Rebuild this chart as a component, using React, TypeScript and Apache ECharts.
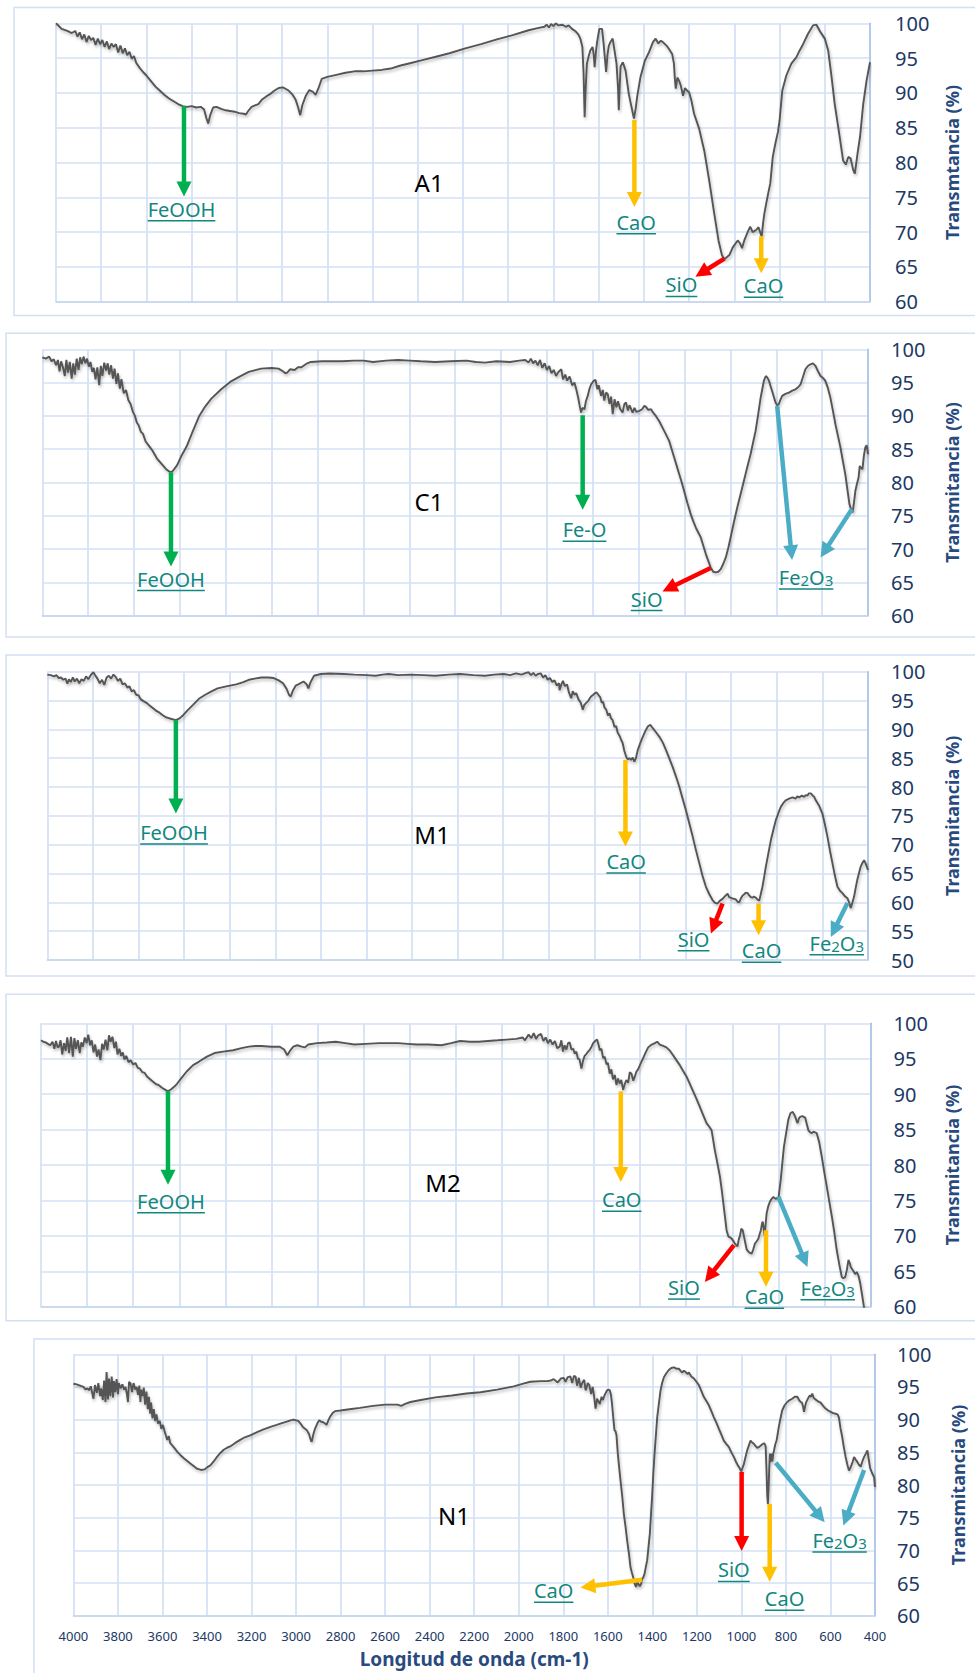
import React, { useEffect, useRef } from "react";
import * as echarts from "echarts";

type Pt = [number, number];
interface Arrow { color: string; from: Pt; to: Pt }
interface Label { text: string; at: Pt }

const GREEN = "#00b050";
const ORANGE = "#ffc000";
const RED = "#ff0000";
const BLUE = "#4bacc6";
const TEAL = "#12877f";
const AXIS_BLUE = "#203864";
const TITLE_BLUE = "#284a7e";

// ---------- spectra (wavenumber cm-1, transmittance %) ----------
const A1_SPECTRUM: Pt[] = [
  [4000,100],[3975,99.2],[3950,98.9],[3930,98.6],[3915,98.9],[3905,98.1],[3895,98.7],[3885,97.7],[3875,98.4],[3865,97.3],[3855,98.2],[3845,97.6],[3835,97.9],[3825,96.9],[3815,97.8],[3805,97.0],[3795,97.6],[3785,96.6],[3775,97.4],[3765,96.3],[3755,97.1],[3745,96.6],[3735,97.0],[3725,95.8],[3715,96.8],[3705,95.7],[3695,96.4],[3685,95.4],[3675,95.9],[3665,94.9],[3655,95.3],[3645,94.3],[3630,93.6],[3615,93.0],[3600,92.5],[3580,91.7],[3560,90.9],[3540,90.3],[3520,89.7],[3500,89.2],[3480,88.8],[3460,88.4],[3440,88.1],[3420,88.0],[3400,88.1],[3380,87.9],[3360,88.0],[3345,87.6],[3335,86.4],[3327,85.6],[3318,86.8],[3305,87.9],[3290,88.0],[3270,87.7],[3250,87.5],[3230,87.4],[3210,87.3],[3190,87.1],[3170,87.0],[3160,86.9],[3150,87.4],[3135,88.0],[3120,88.2],[3105,88.4],[3090,89.0],[3070,89.5],[3050,89.9],[3035,90.3],[3015,90.7],[2997,90.8],[2985,90.6],[2970,90.3],[2955,89.8],[2940,89.0],[2930,88.0],[2920,86.8],[2910,88.3],[2895,89.6],[2880,90.4],[2865,90.2],[2852,89.7],[2840,90.6],[2825,92.0],[2800,92.3],[2760,92.6],[2720,92.9],[2680,93.1],[2640,93.1],[2600,93.2],[2560,93.3],[2520,93.5],[2480,93.9],[2430,94.3],[2380,94.7],[2320,95.2],[2260,95.7],[2190,96.4],[2120,97.0],[2050,97.7],[1980,98.3],[1910,99.0],[1870,99.3],[1840,99.5],[1830,99.8],[1820,99.4],[1810,99.9],[1800,99.6],[1790,100],[1778,99.7],
  [1760,99.8],[1745,99.5],[1733,99.7],[1718,99.2],[1704,98.9],[1690,98.4],[1681,97.8],[1672,96.6],[1667,93.0],[1662,86.5],[1657,91.0],[1652,94.2],[1644,95.3],[1637,96.1],[1627,96.6],[1622,95.5],[1618,93.7],[1612,95.9],[1607,97.3],[1597,99.2],[1585,99.2],[1578,97.0],[1567,93.0],[1561,95.5],[1555,96.8],[1548,97.3],[1538,97.8],[1530,96.1],[1521,94.2],[1514,90.5],[1511,87.5],[1507,91.0],[1503,93.8],[1493,94.4],[1481,93.2],[1467,89.9],[1455,88.0],[1444,86.3],[1436,87.8],[1430,89.4],[1415,92.3],[1396,94.6],[1378,95.8],[1360,97.3],[1348,97.8],[1336,97.1],[1325,97.5],[1316,97.3],[1300,96.8],[1289,96.3],[1275,95.6],[1267,94.2],[1263,92.0],[1259,90.6],[1252,92.2],[1245,91.8],[1237,91.1],[1227,89.6],[1218,90.7],[1208,90.3],[1200,90.1],[1190,88.9],[1178,87.0],[1156,84.9],[1133,81.7],[1111,77.4],[1089,72.7],[1070,68.8],[1055,66.7],[1044,66.1],[1022,66.7],[1007,67.8],[985,68.8],[975,68.4],[966,67.7],[956,68.8],[941,70.0],[930,70.8],[919,70.0],[904,70.3],[893,70.7],[884,69.8],[879,69.4],[872,71.5],[867,72.7],[859,74.1],[850,75.6],[841,77.0],[830,80.8],[818,82.8],[807,84.4],[800,86.0],[788,90.3],[770,92.5],[748,94.2],[726,95.1],[711,96.1],[696,97.0],[674,98.5],[652,99.7],[637,99.8],[622,98.9],[600,97.8],[585,96.1],[570,92.3],[556,88.4],[536,84.1],[519,80.3],[507,79.7],[496,80.8],[486,80.6],[474,78.9],[467,78.4],[455,81.3],[444,83.7],[430,88.4],[415,91.8],[400,94.4]
];

const C1_SPECTRUM: Pt[] = [
  [4000,98.8],[3985,98.6],[3970,98.9],[3960,98.2],[3950,98.5],[3940,97.6],[3932,98.4],[3925,96.7],[3918,98.2],[3910,97.3],[3902,96.0],[3895,98.4],[3888,96.5],[3880,98.1],[3872,95.6],[3865,97.9],[3858,96.2],[3850,98.6],[3842,96.9],[3835,98.8],[3828,97.8],[3820,98.9],[3812,97.9],[3805,98.6],[3797,97.4],[3790,98.1],[3782,96.6],[3775,97.2],[3768,95.5],[3760,97.3],[3752,94.6],[3745,97.5],[3738,96.0],[3730,98.0],[3722,96.8],[3715,97.9],[3708,96.2],[3700,97.6],[3692,95.6],[3685,97.1],[3677,94.8],[3670,96.4],[3662,94.1],[3655,95.5],[3645,93.4],[3635,93.9],[3625,92.4],[3615,91.8],[3605,90.6],[3596,90.0],[3588,89.0],[3580,88.6],[3570,87.6],[3561,87.3],[3550,86.2],[3535,85.5],[3520,84.8],[3500,83.6],[3480,82.8],[3460,82.0],[3445,81.6],[3435,81.6],[3425,82.0],[3412,82.6],[3395,83.9],[3371,85.4],[3345,87.6],[3317,89.9],[3290,91.4],[3263,92.6],[3220,94.0],[3181,95.1],[3140,95.9],[3100,96.6],[3046,97.1],[3000,97.2],[2970,97.1],[2951,96.7],[2940,96.4],[2932,96.5],[2920,97.0],[2900,96.9],[2885,97.3],[2870,97.3],[2850,97.8],[2829,98.1],[2780,98.2],[2720,98.2],[2693,98.2],[2640,98.3],[2600,98.3],[2558,98.1],[2500,98.3],[2449,98.4],[2400,98.3],[2350,98.2],[2287,98.1],[2220,98.2],[2151,98.3],[2110,98.1],[2070,98.0],[2020,98.2],[1961,98.1],[1920,98.3],[1894,98.4],[1880,98.0],[1870,98.6],[1860,97.9],[1850,98.3],[1840,97.6],[1830,98.4],[1820,97.2],[1810,97.9],[1800,96.9],[1790,97.5],[1780,96.4],[1770,96.9],[1760,96.0],[1750,96.6],
  [1745,96.75],[1737,97.0],[1730,95.5],[1720,96.2],[1712,95.3],[1701,95.9],[1690,94.6],[1680,95.0],[1672,94.0],[1664,92.8],[1657,91.5],[1651,90.5],[1645,91.2],[1636,91.0],[1630,92.2],[1622,93.0],[1615,94.0],[1607,94.75],[1595,95.3],[1588,95.4],[1580,94.0],[1574,94.6],[1564,93.0],[1556,93.9],[1550,92.3],[1542,93.5],[1535,93.3],[1527,91.8],[1520,92.9],[1513,90.25],[1505,92.5],[1497,91.3],[1490,92.2],[1480,91.0],[1470,90.5],[1462,91.8],[1455,92.0],[1447,90.8],[1440,91.6],[1426,90.5],[1418,91.2],[1410,90.6],[1397,90.75],[1385,91.0],[1375,91.5],[1368,91.35],[1358,90.9],[1346,91.0],[1335,90.4],[1325,90.0],[1310,89.2],[1296,88.25],[1282,87.3],[1267,86.25],[1256,85.0],[1245,83.75],[1234,82.5],[1223,81.25],[1212,80.0],[1202,78.75],[1188,77.0],[1173,75.25],[1162,74.2],[1151,73.25],[1140,72.5],[1129,71.75],[1118,70.5],[1107,69.25],[1096,68.2],[1086,67.25],[1075,66.6],[1064,66.5],[1053,66.6],[1042,67.0],[1031,67.8],[1020,68.75],[1009,70.2],[999,71.75],[985,74.0],[970,76.25],[955,78.3],[941,80.25],[927,82.2],[912,84.25],[901,86.0],[890,87.75],[879,90.2],[868,92.75],[861,94.0],[854,95.25],[848,95.8],[844,96.0],[838,95.7],[832,95.3],[825,94.5],[818,93.75],[810,92.8],[803,92.0],[796,91.6],[789,91.75],[782,92.4],[774,93.0],[760,93.3],[745,93.5],[730,93.8],[716,94.0],[705,94.3],[694,94.75],[684,95.8],[673,97.0],[662,97.5],[651,97.75],[640,97.9],[629,97.5],[618,96.7],[607,96.0],[596,95.7],[586,95.25],[575,94.2],[564,92.75],[553,90.8],[542,88.75],[531,87.0],[520,85.25],[510,83.3],[499,81.25],[490,79.0],[481,76.75],[474,76.0],[467,75.5],[461,77.0],[455,78.75],[448,79.8],[441,80.75],[436,82.5],[431,82.2],[424,82.0],[418,84.0],[412,85.25],[406,85.6],[400,84.25]
];

const M1_SPECTRUM: Pt[] = [
  [4000,99.5],[3985,99.4],[3970,99.2],[3960,99.4],[3950,98.9],[3940,99.0],[3930,98.6],[3920,98.8],[3912,97.9],[3905,98.7],[3897,98.2],[3888,99.0],[3880,98.3],[3870,98.8],[3860,98.0],[3850,98.7],[3840,98.4],[3830,99.2],[3820,98.7],[3808,99.5],[3798,99.9],[3790,99.4],[3780,98.8],[3770,98.0],[3760,98.6],[3750,97.7],[3740,99.0],[3730,99.3],[3720,98.8],[3710,99.5],[3700,99.1],[3690,98.4],[3680,98.8],[3670,97.8],[3660,98.0],[3648,97.2],[3640,97.5],[3630,96.6],[3620,96.8],[3610,96.0],[3600,95.9],[3590,95.2],[3578,94.9],[3565,94.6],[3553,94.2],[3540,93.8],[3525,93.3],[3512,93.0],[3495,92.5],[3480,92.1],[3471,92.0],[3455,91.8],[3436,91.6],[3420,91.9],[3403,92.5],[3385,93.3],[3362,94.2],[3335,95.3],[3307,96.0],[3280,96.6],[3253,97.1],[3210,97.5],[3171,97.8],[3140,98.2],[3116,98.6],[3090,98.8],[3062,99.0],[3030,99.0],[3007,98.9],[2985,98.5],[2966,98.0],[2950,97.0],[2940,96.0],[2932,95.7],[2922,96.8],[2910,97.6],[2895,97.9],[2876,98.3],[2862,97.8],[2855,97.1],[2845,98.2],[2830,99.3],[2800,99.6],[2762,99.7],[2700,99.6],[2653,99.5],[2600,99.4],[2560,99.3],[2530,99.5],[2503,99.6],[2460,99.4],[2407,99.5],[2350,99.4],[2298,99.3],[2240,99.5],[2189,99.6],[2130,99.4],[2080,99.3],[2040,99.5],[1998,99.6],[1970,99.4],[1944,99.7],[1920,99.5],[1900,99.8],[1889,99.9],[1878,99.4],[1868,99.8],[1858,99.3],[1848,99.6],[1835,99.7],[1825,99.0],[1815,99.4],[1805,98.6],[1795,98.9],[1785,98.2],[1775,98.5],[1765,97.6],[1755,98.0],
  [1753,96.8],[1745,97.8],[1738,98.4],[1730,97.5],[1720,97.8],[1712,96.4],[1702,95.4],[1695,96.6],[1687,96.0],[1680,96.3],[1670,95.2],[1660,94.6],[1651,93.4],[1645,94.2],[1636,94.6],[1628,94.9],[1615,95.7],[1605,96.0],[1597,96.3],[1590,96.4],[1583,96.0],[1575,95.6],[1568,94.6],[1562,94.8],[1556,93.8],[1548,93.4],[1541,92.4],[1534,92.8],[1527,91.9],[1520,91.6],[1512,90.4],[1505,90.6],[1498,89.4],[1490,88.9],[1483,88.2],[1476,87.6],[1469,86.3],[1461,85.3],[1454,84.8],[1446,85.0],[1439,84.7],[1432,85.1],[1425,84.4],[1418,85.0],[1410,86.4],[1399,87.6],[1388,88.7],[1378,89.6],[1366,90.5],[1355,90.8],[1344,90.2],[1330,89.5],[1315,88.7],[1300,87.7],[1286,86.4],[1272,85.0],[1257,83.5],[1243,81.9],[1228,80.1],[1214,78.1],[1199,76.0],[1184,73.7],[1169,71.4],[1155,69.1],[1140,66.8],[1126,64.6],[1111,62.7],[1096,61.4],[1082,60.4],[1071,59.9],[1060,59.8],[1049,60.3],[1038,60.6],[1024,61.2],[1016,61.5],[1009,60.9],[995,60.7],[980,60.5],[972,60.1],[965,60.0],[956,60.8],[950,61.2],[943,61.4],[936,61.7],[928,61.6],[921,61.2],[914,60.9],[907,60.8],[900,61.0],[892,60.8],[885,60.5],[877,60.3],[870,61.5],[863,62.7],[855,64.5],[848,66.2],[837,68.5],[826,70.8],[815,72.6],[804,74.3],[793,75.5],[782,76.6],[772,77.2],[761,77.7],[746,78.0],[731,78.2],[717,78.0],[710,78.4],[702,78.2],[690,78.5],[680,78.3],[673,78.6],[665,78.5],[660,78.9],[651,78.9],[642,78.5],[636,78.3],[629,77.7],[615,76.8],[600,75.4],[589,73.5],[578,71.4],[567,69.0],[556,66.8],[545,64.6],[534,62.7],[523,62.0],[512,61.6],[500,61.0],[490,60.7],[483,60.0],[476,59.0],[468,60.0],[461,61.0],[454,62.5],[447,63.9],[440,65.0],[432,66.2],[425,66.8],[417,67.3],[412,66.9],[407,66.4],[400,65.6]
];

const M2_SPECTRUM: Pt[] = [
  [4000,97.6],[3990,97.4],[3980,97.3],[3970,97.1],[3960,96.9],[3950,97.4],[3942,96.4],[3935,97.5],[3928,96.6],[3922,96.7],[3915,97.6],[3908,95.6],[3900,97.2],[3893,96.1],[3886,98.0],[3878,95.8],[3870,98.1],[3862,95.3],[3855,97.9],[3848,96.4],[3840,97.6],[3832,95.8],[3825,97.3],[3818,96.7],[3810,98.0],[3802,97.2],[3795,98.4],[3787,96.9],[3780,97.6],[3772,95.9],[3765,97.0],[3757,95.3],[3750,96.3],[3742,94.8],[3735,97.1],[3728,96.3],[3720,97.7],[3712,96.2],[3705,98.3],[3698,97.4],[3690,98.1],[3682,96.5],[3675,97.4],[3668,95.6],[3660,96.4],[3652,95.4],[3645,95.9],[3638,94.9],[3630,95.4],[3620,94.5],[3611,94.8],[3600,94.2],[3590,94.4],[3580,93.7],[3571,93.6],[3560,93.1],[3550,93.0],[3540,92.5],[3530,92.2],[3515,91.8],[3500,91.4],[3490,91.3],[3475,90.9],[3460,90.6],[3449,90.4],[3435,90.7],[3420,91.1],[3409,91.5],[3390,92.3],[3368,93.2],[3340,94.1],[3314,94.6],[3280,95.3],[3247,95.8],[3210,96.0],[3166,96.2],[3130,96.5],[3098,96.7],[3070,96.8],[3045,96.8],[3000,96.7],[2964,96.7],[2945,96.3],[2931,95.5],[2920,96.1],[2905,96.7],[2888,96.9],[2869,96.7],[2855,96.6],[2840,97.0],[2802,97.2],[2760,97.3],[2721,97.4],[2680,97.2],[2640,97.0],[2590,97.1],[2532,97.2],[2490,97.2],[2451,97.2],[2410,97.1],[2370,97.0],[2320,97.0],[2262,96.9],[2220,97.2],[2181,97.5],[2140,97.4],[2100,97.4],[2060,97.5],[2019,97.6],[1980,97.7],[1938,97.8],[1910,98.0],[1900,97.6],[1884,98.4],[1872,97.9],[1862,98.6],[1852,97.8],[1842,98.3],[1830,98.5],[1820,97.5],[1810,98.0],[1800,97.2],[1790,97.7],[1780,97.0],[1770,97.5],[1760,96.5],
  [1749,96.7],[1742,97.6],[1735,96.0],[1728,96.9],[1720,96.3],[1713,97.2],[1706,97.3],[1698,96.3],[1690,96.4],[1684,95.7],[1677,96.0],[1670,95.0],[1663,94.9],[1655,93.6],[1648,94.7],[1641,95.4],[1633,95.7],[1626,96.0],[1618,96.3],[1611,96.7],[1604,97.2],[1595,97.5],[1587,97.7],[1580,96.9],[1575,96.2],[1568,96.4],[1561,95.1],[1554,95.3],[1546,94.2],[1540,94.4],[1532,92.9],[1525,93.5],[1518,92.1],[1510,92.7],[1503,91.3],[1496,92.2],[1489,91.5],[1482,92.0],[1474,90.6],[1467,91.4],[1460,92.0],[1452,91.6],[1445,93.1],[1438,92.9],[1430,91.9],[1423,92.5],[1416,93.2],[1409,93.5],[1398,94.3],[1387,95.1],[1376,95.9],[1365,96.6],[1350,97.0],[1336,97.2],[1326,97.4],[1315,97.0],[1300,96.8],[1286,96.6],[1270,96.1],[1257,95.5],[1243,94.8],[1228,94.1],[1214,93.3],[1199,92.5],[1185,91.5],[1170,90.4],[1155,89.3],[1141,88.2],[1126,87.0],[1112,85.9],[1100,85.4],[1090,84.9],[1083,83.5],[1076,82.1],[1065,80.3],[1054,78.4],[1046,76.5],[1039,74.6],[1032,72.7],[1025,70.8],[1017,69.9],[1010,69.8],[1003,69.6],[996,69.3],[989,68.9],[978,68.5],[972,69.5],[967,70.0],[961,71.0],[955,70.8],[950,70.0],[945,69.2],[938,68.1],[931,67.8],[924,67.6],[916,67.5],[909,68.1],[902,68.9],[895,69.2],[887,69.6],[880,70.4],[876,70.8],[871,71.8],[868,72.0],[864,71.1],[860,70.0],[855,71.8],[851,73.2],[844,74.2],[837,74.8],[830,75.2],[822,75.5],[816,75.3],[811,75.2],[805,75.4],[800,75.3],[795,76.6],[790,77.9],[783,80.3],[776,82.6],[766,84.6],[757,86.4],[748,87.3],[738,87.5],[733,87.2],[728,86.9],[722,86.3],[717,85.9],[712,86.5],[706,86.8],[703,86.8],[696,86.9],[690,86.8],[684,86.7],[677,85.8],[670,84.9],[662,84.6],[655,84.5],[648,84.7],[641,84.6],[634,84.5],[623,83.2],[612,81.2],[601,79.0],[590,76.9],[579,74.8],[568,72.7],[557,70.4],[547,68.0],[536,66.0],[525,64.2],[518,64.0],[510,64.2],[503,65.2],[496,66.6],[491,66.2],[486,65.6],[480,65.3],[474,65.0],[467,64.6],[460,64.9],[452,64.3],[445,63.3],[438,61.9],[428,59.8],[418,57.5],[400,53.0]
];

const N1_SPECTRUM: Pt[] = [
  [4000,95.5],[3985,95.4],[3970,95.2],[3955,95.0],[3945,94.6],[3937,94.8],[3930,94.5],[3922,95.1],[3915,94.0],[3910,93.2],[3903,95.3],[3895,94.1],[3888,95.6],[3880,93.6],[3875,94.8],[3868,93.0],[3862,96.0],[3856,92.7],[3851,97.3],[3845,93.1],[3840,96.3],[3834,93.6],[3828,96.6],[3822,93.4],[3818,95.9],[3812,94.2],[3806,96.2],[3800,93.9],[3796,95.6],[3788,94.8],[3780,95.4],[3772,94.6],[3766,95.0],[3760,94.0],[3755,92.7],[3750,95.8],[3743,95.5],[3737,94.2],[3730,95.6],[3722,94.6],[3716,95.0],[3710,93.8],[3704,95.2],[3699,92.7],[3696,94.6],[3690,93.6],[3684,94.9],[3678,92.3],[3672,94.3],[3666,91.6],[3661,93.5],[3655,90.9],[3651,92.6],[3645,90.2],[3639,91.6],[3633,89.8],[3627,90.8],[3620,89.4],[3612,89.8],[3605,88.6],[3598,89.2],[3591,88.3],[3585,87.6],[3579,86.9],[3572,87.5],[3565,86.4],[3557,86.1],[3545,85.6],[3534,85.1],[3520,84.6],[3504,84.1],[3490,83.7],[3475,83.3],[3460,82.9],[3445,82.5],[3427,82.3],[3410,82.4],[3400,82.7],[3385,83.0],[3370,83.6],[3355,84.3],[3340,84.9],[3325,85.4],[3310,85.7],[3296,85.9],[3275,86.4],[3251,86.9],[3230,87.3],[3206,87.6],[3175,88.1],[3146,88.5],[3115,88.9],[3087,89.2],[3060,89.5],[3042,89.7],[3025,89.9],[3012,90.0],[3000,89.9],[2990,89.8],[2980,89.4],[2970,88.9],[2960,88.6],[2952,88.4],[2942,87.8],[2935,87.0],[2930,86.6],[2922,87.8],[2915,88.6],[2905,89.4],[2896,89.9],[2888,89.7],[2878,89.6],[2870,89.4],[2863,89.2],[2855,89.9],[2848,90.4],[2836,91.0],[2825,91.3],[2800,91.4],[2760,91.6],[2713,91.8],[2654,92.1],[2600,92.3],[2570,92.3],[2545,92.3],[2528,92.1],[2510,92.4],[2486,92.7],[2440,93.0],[2374,93.4],[2300,93.7],[2235,94.0],[2172,94.2],[2097,94.6],[2022,95.1],[1980,95.5],[1948,95.8],[1900,95.9],[1873,95.9],[1855,96.0],[1843,96.2],[1825,95.7],[1810,96.3],[1798,96.4],[1790,95.8],[1780,96.5],[1768,96.6],[1760,95.6],[1752,96.7],[1745,96.6],[1738,95.2],[1730,96.4],[1722,94.9],[1715,95.6],[1706,96.1],[1700,94.5],[1696,94.8],[1690,95.6],[1683,95.3],[1675,93.9],[1668,95.0],[1662,93.7],[1655,91.7],[1648,93.2],[1642,92.8],[1636,92.4],[1628,93.5],[1622,93.0],[1615,93.7],[1609,94.1],[1603,94.5],[1597,94.6],[1591,94.5],[1586,93.8],[1581,92.4],[1576,90.5],[1570,88.4],[1565,88.2],[1561,87.6],[1555,84.8],[1549,82.7],[1543,80.7],[1535,78.2],[1528,75.6],[1520,73.5],[1513,71.5],[1505,69.5],[1498,67.4],[1492,66.6],[1486,65.9],[1481,65.1],[1476,64.6],[1472,64.4],[1468,65.3],[1462,64.8],[1456,64.5],[1450,64.9],[1446,65.6],[1440,65.9],[1435,66.4],[1429,67.5],[1423,68.5],[1417,70.6],[1411,72.6],[1406,75.5],[1401,78.2],[1396,81.5],[1390,84.8],[1384,87.6],[1378,90.4],[1370,92.6],[1363,94.5],[1356,95.6],[1348,96.5],[1337,97.1],[1326,97.6],[1315,97.9],[1303,98.0],[1292,97.8],[1281,97.8],[1274,97.5],[1266,97.2],[1258,97.5],[1251,97.3],[1243,97.0],[1236,97.2],[1225,96.6],[1213,96.3],[1202,95.8],[1191,95.3],[1180,94.4],[1169,93.5],[1158,92.9],[1146,92.2],[1135,91.3],[1124,90.4],[1112,89.5],[1101,88.6],[1090,87.7],[1079,86.8],[1068,86.3],[1056,85.8],[1045,85.0],[1034,84.3],[1025,83.6],[1016,83.0],[1008,82.6],[1001,82.1],[995,82.6],[989,83.2],[982,84.2],[974,85.3],[966,86.1],[959,86.8],[952,86.5],[944,86.3],[937,86.0],[929,85.7],[921,85.8],[914,86.0],[907,86.2],[899,86.4],[894,86.2],[891,85.9],[887,82.0],[884,78.5],[881,77.1],[878,79.5],[875,82.5],[872,84.8],[869,83.5],[866,84.8],[861,83.6],[857,84.8],[854,85.2],[848,86.2],[842,86.8],[837,87.8],[832,88.9],[825,90.1],[817,91.4],[806,92.2],[794,92.7],[783,93.0],[772,93.2],[760,93.5],[749,93.5],[741,93.0],[734,92.7],[728,92.6],[723,92.0],[719,91.2],[715,91.8],[710,92.6],[700,93.3],[693,93.7],[688,93.5],[682,94.0],[675,93.3],[667,93.1],[656,92.8],[644,92.6],[633,92.1],[622,91.7],[610,91.4],[599,91.2],[588,91.0],[576,90.9],[568,90.8],[562,90.3],[555,88.7],[547,87.3],[540,85.8],[532,84.3],[524,83.1],[517,82.2],[511,82.6],[506,83.0],[500,83.6],[494,84.3],[487,83.9],[479,83.5],[472,83.1],[464,82.8],[457,83.6],[449,84.3],[441,84.8],[434,85.3],[428,83.9],[422,82.6],[416,82.1],[410,81.6],[404,81.2],[400,79.7]
];

// ---------- annotations (data coordinates) ----------
const A1_ARROWS: Arrow[] = [
  { color: GREEN, from: [3434, 88.1], to: [3434, 75.1] },
  { color: ORANGE, from: [1442, 86.1], to: [1442, 73.6] },
  { color: RED, from: [1044, 66.2], to: [1172, 63.6] },
  { color: ORANGE, from: [881, 69.4], to: [881, 64.1] },
];
const A1_LABELS: Label[] = [
  { text: "FeOOH", at: [3445, 73.3] },
  { text: "CaO", at: [1434, 71.4] },
  { text: "SiO", at: [1234, 62.4] },
  { text: "CaO", at: [871, 62.3] },
];
const C1_ARROWS: Arrow[] = [
  { color: GREEN, from: [3439, 81.5], to: [3439, 67.4] },
  { color: GREEN, from: [1644, 90.1], to: [1644, 75.9] },
  { color: RED, from: [1086, 67.15], to: [1296, 63.65] },
  { color: BLUE, from: [796, 91.5], to: [731, 68.35] },
  { color: BLUE, from: [470, 76.0], to: [607, 68.75] },
];
const C1_LABELS: Label[] = [
  { text: "FeOOH", at: [3439, 65.5] },
  { text: "Fe-O", at: [1636, 72.9] },
  { text: "SiO", at: [1365, 62.5] },
  { text: "Fe2O3", at: [670, 65.75] },
];
const M1_ARROWS: Arrow[] = [
  { color: GREEN, from: [3436, 91.6], to: [3436, 75.4] },
  { color: ORANGE, from: [1464, 84.7], to: [1464, 69.7] },
  { color: RED, from: [1038, 59.8], to: [1089, 54.6] },
  { color: ORANGE, from: [880, 59.8], to: [880, 54.3] },
  { color: BLUE, from: [490, 59.9], to: [563, 54.0] },
];
const M1_LABELS: Label[] = [
  { text: "FeOOH", at: [3444, 72.1] },
  { text: "CaO", at: [1461, 67.1] },
  { text: "SiO", at: [1165, 53.6] },
  { text: "CaO", at: [867, 51.6] },
  { text: "Fe2O3", at: [537, 52.9] },
];
const M2_ARROWS: Arrow[] = [
  { color: GREEN, from: [3449, 90.4], to: [3449, 77.2] },
  { color: ORANGE, from: [1484, 90.4], to: [1484, 77.6] },
  { color: RED, from: [993, 68.7], to: [1119, 63.5] },
  { color: ORANGE, from: [854, 70.8], to: [854, 62.8] },
  { color: BLUE, from: [800, 75.5], to: [674, 65.6] },
];
const M2_LABELS: Label[] = [
  { text: "FeOOH", at: [3436, 74.9] },
  { text: "CaO", at: [1480, 75.1] },
  { text: "SiO", at: [1210, 62.7] },
  { text: "CaO", at: [861, 61.4] },
  { text: "Fe2O3", at: [586, 62.6] },
];
const N1_ARROWS: Arrow[] = [
  { color: ORANGE, from: [1446, 65.5], to: [1723, 64.3] },
  { color: RED, from: [999, 82.0], to: [999, 69.9] },
  { color: ORANGE, from: [873, 77.1], to: [873, 65.2] },
  { color: BLUE, from: [846, 83.4], to: [626, 74.3] },
  { color: BLUE, from: [449, 82.3], to: [542, 73.8] },
];
const N1_LABELS: Label[] = [
  { text: "CaO", at: [1843, 63.8] },
  { text: "SiO", at: [1034, 67.0] },
  { text: "CaO", at: [806, 62.6] },
  { text: "Fe2O3", at: [559, 71.5] },
];

const SAMPLE_NAMES = ["A1", "C1", "M1", "M2", "N1"];
const SAMPLE_NAME_AT: Pt[] = [[2350, 77.1], [2314, 77.1], [2312, 71.8], [2256, 77.6], [2291, 75.4]];
const Y_MIN = [60, 60, 50, 60, 60];
const Y_NAMES = ["Transmtancia (%)", "Transmitancia (%)", "Transmitancia (%)", "Transmitancia (%)", "Transmitancia (%)"];
const X_NAME = "Longitud de onda (cm-1)";

// ---------- layout ----------
const PANELS = [
  { data: A1_SPECTRUM, arrows: A1_ARROWS, labels: A1_LABELS, grid: { left: 56, top: 23.3, width: 814, height: 278.4 }, box: [14, 7.5, 1000, 308], labelMargin: 25, nameX: 951.5 },
  { data: C1_SPECTRUM, arrows: C1_ARROWS, labels: C1_LABELS, grid: { left: 42.3, top: 349.3, width: 825.7, height: 266.4 }, box: [6, 333.3, 1000, 303.7], labelMargin: 23, nameX: 951.5 },
  { data: M1_SPECTRUM, arrows: M1_ARROWS, labels: M1_LABELS, grid: { left: 47.3, top: 671.7, width: 820.7, height: 288.3 }, box: [6, 655, 1000, 321], labelMargin: 23, nameX: 951.5 },
  { data: M2_SPECTRUM, arrows: M2_ARROWS, labels: M2_LABELS, grid: { left: 41, top: 1023.3, width: 829.6, height: 283.4 }, box: [6, 994.3, 1000, 326.4], labelMargin: 23, nameX: 951.5 },
  { data: N1_SPECTRUM, arrows: N1_ARROWS, labels: N1_LABELS, grid: { left: 73.4, top: 1354.3, width: 801.6, height: 261.4 }, box: [34, 1339, 1000, 400], labelMargin: 22, nameX: 958 },
];

const FONT = "Noto Sans";

function buildOption() {
  return {
    animation: false,
    backgroundColor: "#ffffff",
    grid: PANELS.map((p) => ({ ...p.grid, containLabel: false })),
    xAxis: PANELS.map((p, i) => ({
      type: "value",
      gridIndex: i,
      min: 400,
      max: 4000,
      interval: 200,
      inverse: true,
      axisTick: { show: false },
      axisLine: { show: true, lineStyle: { color: "#c3d5ee", width: 1.5 } },
      splitLine: { show: true, lineStyle: { color: "#d3e1f4", width: 1.7 } },
      axisLabel: {
        show: i === 4,
        color: AXIS_BLUE,
        fontSize: 13,
        fontFamily: FONT,
        margin: 14,
        formatter: (v: number) => String(v),
      },
    })),
    yAxis: PANELS.map((p, i) => ({
      type: "value",
      gridIndex: i,
      position: "right",
      min: Y_MIN[i],
      max: 100,
      interval: 5,
      axisTick: { show: false },
      axisLine: { show: true, lineStyle: { color: "#a9c3e8", width: 1.6 } },
      splitLine: { show: true, lineStyle: { color: "#d3e1f4", width: 1.7 } },
      axisLabel: { color: AXIS_BLUE, fontSize: 20, fontFamily: FONT, margin: p.labelMargin },
    })),
    series: PANELS.map((p, i) => ({
      type: "line",
      name: SAMPLE_NAMES[i],
      xAxisIndex: i,
      yAxisIndex: i,
      data: p.data,
      showSymbol: false,
      clip: true,
      silent: true,
      lineStyle: {
        color: "#555555",
        width: 1.9,
        shadowColor: "rgba(0,0,0,0.28)",
        shadowBlur: 3,
        shadowOffsetX: 1,
        shadowOffsetY: 2,
      },
      z: 3,
    })),
  };
}

const measureCtx = typeof document !== "undefined" ? document.createElement("canvas").getContext("2d") : null;
function textW(t: string, size: number): number {
  if (!measureCtx) return t.length * size * 0.6;
  measureCtx.font = `${size}px "${FONT}"`;
  return measureCtx.measureText(t).width;
}

function arrowEls(s: number[], t: number[], color: string) {
  const dx = t[0] - s[0];
  const dy = t[1] - s[1];
  const L = Math.hypot(dx, dy) || 1;
  const ux = dx / L, uy = dy / L;
  const hl = 15, hw = 7.5;
  const bx = t[0] - ux * hl, by = t[1] - uy * hl;
  const px = -uy, py = ux;
  return [
    { type: "line", z: 10, silent: true, shape: { x1: s[0], y1: s[1], x2: bx + ux, y2: by + uy }, style: { stroke: color, lineWidth: 4.5 } },
    { type: "polygon", z: 10, silent: true, shape: { points: [[t[0], t[1]], [bx + px * hw, by + py * hw], [bx - px * hw, by - py * hw]] }, style: { fill: color } },
  ];
}

function buildGraphics(chart: any) {
  const els: any[] = [];
  PANELS.forEach((p, i) => {
    const [bx, by, bw, bh] = p.box;
    els.push({ type: "rect", silent: true, z: 0, shape: { x: bx, y: by, width: bw, height: bh }, style: { fill: "none", stroke: "#d3e0f2", lineWidth: 1.5 } });
    const toPx = (pt: Pt) => chart.convertToPixel({ seriesIndex: i }, pt) as number[];
    p.arrows.forEach((a) => els.push(...arrowEls(toPx(a.from), toPx(a.to), a.color)));
    p.labels.forEach((l) => {
      const c = toPx(l.at);
      let w: number;
      if (l.text === "Fe2O3") {
        w = textW("Fe", 20) + textW("2", 15) + textW("O", 20) + textW("3", 15);
        els.push({
          type: "text", z: 11, silent: true, x: c[0], y: c[1],
          style: {
            text: "{n|Fe}{s|2}{n|O}{s|3}",
            align: "center", verticalAlign: "middle", textAlign: "center", textVerticalAlign: "middle",
            rich: {
              n: { fontSize: 20, fontFamily: FONT, fill: TEAL },
              s: { fontSize: 15, fontFamily: FONT, fill: TEAL, verticalAlign: "bottom" },
            },
          },
        });
      } else {
        w = textW(l.text, 20);
        els.push({
          type: "text", z: 11, silent: true, x: c[0], y: c[1],
          style: { text: l.text, fill: TEAL, fontSize: 20, fontFamily: FONT, align: "center", verticalAlign: "middle", textAlign: "center", textVerticalAlign: "middle" },
        });
      }
      els.push({ type: "line", z: 11, silent: true, shape: { x1: c[0] - w / 2, y1: c[1] + 11.5, x2: c[0] + w / 2, y2: c[1] + 11.5 }, style: { stroke: TEAL, lineWidth: 1.5 } });
    });
    const nc = toPx(SAMPLE_NAME_AT[i]);
    els.push({
      type: "text", z: 11, silent: true, x: nc[0], y: nc[1],
      style: { text: SAMPLE_NAMES[i], fill: "#000000", fontSize: 24, fontFamily: FONT, align: "center", verticalAlign: "middle", textAlign: "center", textVerticalAlign: "middle" },
    });
    els.push({
      type: "text", z: 11, silent: true, x: p.nameX, y: p.grid.top + p.grid.height / 2, rotation: Math.PI / 2,
      style: { text: Y_NAMES[i], fill: TITLE_BLUE, fontSize: 18, fontWeight: "bold", fontFamily: FONT, align: "center", verticalAlign: "middle", textAlign: "center", textVerticalAlign: "middle" },
    });
  });
  const last = PANELS[4].grid;
  els.push({
    type: "text", z: 11, silent: true, x: last.left + last.width / 2, y: 1659,
    style: { text: X_NAME, fill: TITLE_BLUE, fontSize: 19, fontWeight: "bold", fontFamily: FONT, align: "center", verticalAlign: "middle", textAlign: "center", textVerticalAlign: "middle" },
  });
  return els;
}

export default function App() {
  const ref = useRef<HTMLDivElement>(null);
  useEffect(() => {
    if (!ref.current) return;
    const chart = echarts.init(ref.current, null, { renderer: "svg" });
    chart.setOption(buildOption() as any);
    chart.setOption({ graphic: buildGraphics(chart) } as any);
    return () => chart.dispose();
  }, []);
  return (
    <div
      ref={ref}
      style={{ position: "absolute", left: 0, top: 0, width: 975, height: 1673, background: "#ffffff" }}
    />
  );
}
